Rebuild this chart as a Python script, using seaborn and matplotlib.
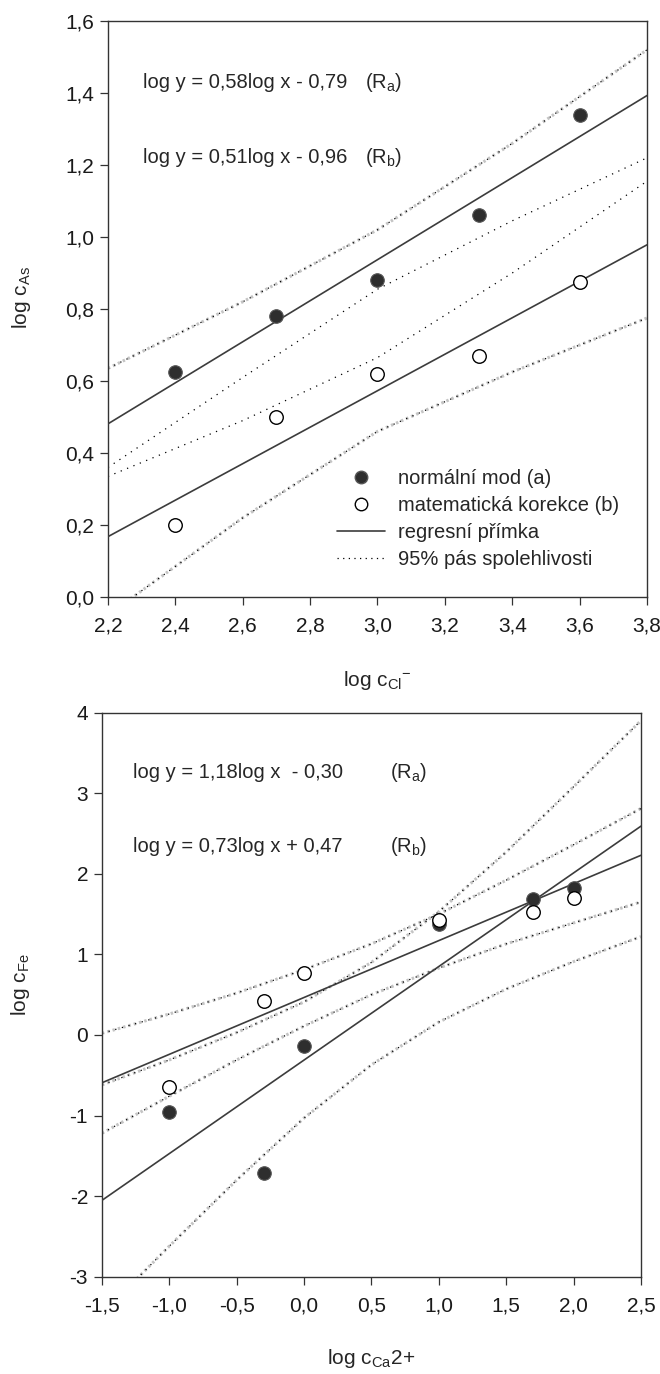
import numpy as np
import pandas as pd
import matplotlib
matplotlib.use("Agg")
import matplotlib.pyplot as plt
from matplotlib.lines import Line2D
import seaborn as sns

# ---------------- data ----------------
# panel 1: log c_As vs log c_Cl-
cl_x = [2.4, 2.7, 3.0, 3.3, 3.6]
as_normal = [0.625, 0.78, 0.88, 1.06, 1.34]
as_corrected = [0.20, 0.50, 0.62, 0.67, 0.875]

as_band_x = [2.2, 2.6, 3.0, 3.4, 3.8]
as_upper_a = [0.635, 0.82, 1.02, 1.26, 1.52]
as_lower_a = [0.36, 0.61, 0.855, 1.045, 1.22]
as_upper_b = [0.335, 0.49, 0.665, 0.90, 1.155]
as_lower_b = [-0.05, 0.22, 0.46, 0.625, 0.775]

as_xticks = [2.2, 2.4, 2.6, 2.8, 3.0, 3.2, 3.4, 3.6, 3.8]
as_xlabels = ["2,2", "2,4", "2,6", "2,8", "3,0", "3,2", "3,4", "3,6", "3,8"]
as_yticks = [0.0, 0.2, 0.4, 0.6, 0.8, 1.0, 1.2, 1.4, 1.6]
as_ylabels = ["0,0", "0,2", "0,4", "0,6", "0,8", "1,0", "1,2", "1,4", "1,6"]

# panel 2: log c_Fe vs log c_Ca2+
ca_x = [-1.0, -0.3, 0.0, 1.0, 1.7, 2.0]
fe_normal = [-0.96, -1.71, -0.14, 1.38, 1.69, 1.82]
fe_corrected = [-0.64, 0.42, 0.77, 1.42, 1.52, 1.70]

fe_band_x = [-1.5, -1.0, -0.5, 0.0, 0.5, 1.0, 1.5, 2.0, 2.5]
fe_upper_a = [-0.62, -0.31, 0.03, 0.41, 0.90, 1.53, 2.27, 3.08, 3.90]
fe_lower_a = [-3.46, -2.62, -1.80, -1.03, -0.37, 0.16, 0.57, 0.91, 1.22]
fe_upper_b = [0.02, 0.26, 0.52, 0.81, 1.13, 1.50, 1.92, 2.36, 2.81]
fe_lower_b = [-1.22, -0.76, -0.31, 0.11, 0.50, 0.83, 1.13, 1.39, 1.65]

fe_xticks = [-1.5, -1.0, -0.5, 0.0, 0.5, 1.0, 1.5, 2.0, 2.5]
fe_xlabels = ["-1,5", "-1,0", "-0,5", "0,0", "0,5", "1,0", "1,5", "2,0", "2,5"]
fe_yticks = [-3, -2, -1, 0, 1, 2, 3, 4]
fe_ylabels = ["-3", "-2", "-1", "0", "1", "2", "3", "4"]

as_equations = ["log y = 0,58log x - 0,79", "log y = 0,51log x - 0,96"]
fe_equations = ["log y = 1,18log x  - 0,30", "log y = 0,73log x + 0,47"]
r_labels = ["(R$_a$)", "(R$_b$)"]
legend_labels = ["normální mod (a)", "matematická korekce (b)",
                 "regresní přímka", "95% pás spolehlivosti"]

# ---------------- style ----------------
sns.set_theme(style="white")
plt.rcParams["font.family"] = ["Liberation Sans", "DejaVu Sans"]
plt.rcParams["mathtext.default"] = "regular"

FS_TICK = 15
FS_EQ = 14.5
FS_LEG = 14.5
FS_LAB = 15
DARK = "#2e2e2e"
LINEC = "#3c3c3c"
GRAY = "#c4c4c4"

fig = plt.figure(figsize=(6.6, 13.74), dpi=100)
ax1 = fig.add_axes([0.1636, 0.5655, 0.8167, 0.4192])
ax2 = fig.add_axes([0.1545, 0.0708, 0.8167, 0.4106])


def band(ax, x, y, kind):
    if kind in ("gray", "both"):
        ax.plot(x, y, color=GRAY, lw=2.2, dashes=(0.8, 1.0), zorder=2,
                dash_capstyle="butt")
    if kind in ("black", "both"):
        ax.plot(x, y, color="black", lw=0.9, dashes=(1.0, 4.5), zorder=2.5)


def style_axes(ax, xlim, ylim, xt, xl, yt, yl):
    ax.set_xlim(*xlim)
    ax.set_ylim(*ylim)
    ax.set_xticks(xt)
    ax.set_xticklabels(xl)
    ax.set_yticks(yt)
    ax.set_yticklabels(yl)
    ax.tick_params(axis="both", which="both", direction="out", length=6,
                   width=0.9, color="#333333", labelsize=FS_TICK, bottom=True,
                   left=True, top=False, right=False, labelcolor="#1a1a1a")
    ax.tick_params(axis="x", pad=8)
    ax.tick_params(axis="y", pad=4)
    for sp in ax.spines.values():
        sp.set_color("#333333")
        sp.set_linewidth(1.0)
        sp.set_visible(True)
    ax.grid(False)


# ---------------- panel 1 ----------------
ax = ax1
ax.set_xlim(2.2, 3.8)
ax.set_ylim(0.0, 1.6)
band(ax, as_band_x, as_upper_a, "both")
band(ax, as_band_x, as_lower_a, "black")
band(ax, as_band_x, as_upper_b, "black")
band(ax, as_band_x, as_lower_b, "both")
for yv in (as_normal, as_corrected):
    sns.regplot(x=cl_x, y=yv, ax=ax, scatter=False, ci=None, truncate=False,
                line_kws=dict(color=LINEC, lw=1.2, zorder=3))
sns.scatterplot(x=cl_x, y=as_normal, ax=ax, color=DARK, edgecolor="#555555",
                linewidth=0.8, s=95, zorder=4)
sns.scatterplot(x=cl_x, y=as_corrected, ax=ax, color="white",
                edgecolor="black", linewidth=1.0, s=95, zorder=4)
style_axes(ax, (2.2, 3.8), (0.0, 1.6), as_xticks, as_xlabels,
           as_yticks, as_ylabels)
ax.text(2.305, 1.413, as_equations[0], fontsize=FS_EQ, va="baseline")
ax.text(2.305, 1.205, as_equations[1], fontsize=FS_EQ, va="baseline")
ax.text(2.963, 1.413, r_labels[0], fontsize=FS_EQ, va="baseline")
ax.text(2.963, 1.205, r_labels[1], fontsize=FS_EQ, va="baseline")
ax.set_xlabel("log c$_{Cl}$$^{-}$", fontsize=FS_LAB)
ax.set_ylabel("log c$_{As}$", fontsize=FS_LAB)
ax.xaxis.set_label_coords(0.5, -0.125)
ax.yaxis.set_label_coords(-0.14, 0.52)

handles = [
    Line2D([], [], ls="none", marker="o", ms=9.0, color=DARK,
           markeredgecolor="#555555"),
    Line2D([], [], ls="none", marker="o", ms=9.0, markerfacecolor="white",
           markeredgecolor="black", markeredgewidth=1.0),
    Line2D([], [], color=LINEC, lw=1.2),
    Line2D([], [], color="black", lw=0.9, dashes=(1.0, 3.5)),
]
ax.legend(handles, legend_labels, loc="upper left",
          bbox_to_anchor=(0.425, 0.222), frameon=False, fontsize=FS_LEG,
          handlelength=2.4, handletextpad=0.65, labelspacing=0.4,
          borderpad=0, borderaxespad=0)

# ---------------- panel 2 ----------------
ax = ax2
ax.set_xlim(-1.5, 2.5)
ax.set_ylim(-3, 4)
band(ax, fe_band_x, fe_upper_a, "both")
band(ax, fe_band_x, fe_lower_a, "both")
band(ax, fe_band_x, fe_upper_b, "both")
band(ax, fe_band_x, fe_lower_b, "both")
for yv in (fe_normal, fe_corrected):
    sns.regplot(x=ca_x, y=yv, ax=ax, scatter=False, ci=None, truncate=False,
                line_kws=dict(color=LINEC, lw=1.2, zorder=3))
sns.scatterplot(x=ca_x, y=fe_normal, ax=ax, color=DARK, edgecolor="#555555",
                linewidth=0.8, s=95, zorder=4)
sns.scatterplot(x=ca_x, y=fe_corrected, ax=ax, color="white",
                edgecolor="black", linewidth=1.0, s=95, zorder=4)
style_axes(ax, (-1.5, 2.5), (-3, 4), fe_xticks, fe_xlabels,
           fe_yticks, fe_ylabels)
ax.text(-1.268, 3.185, fe_equations[0], fontsize=FS_EQ, va="baseline")
ax.text(-1.268, 2.274, fe_equations[1], fontsize=FS_EQ, va="baseline")
ax.text(0.637, 3.185, r_labels[0], fontsize=FS_EQ, va="baseline")
ax.text(0.637, 2.274, r_labels[1], fontsize=FS_EQ, va="baseline")
ax.set_xlabel("log c$_{Ca}$2+", fontsize=FS_LAB)
ax.set_ylabel("log c$_{Fe}$", fontsize=FS_LAB)
ax.xaxis.set_label_coords(0.5, -0.125)
ax.yaxis.set_label_coords(-0.13, 0.517)

fig.savefig("out.png", dpi=100, facecolor="white")
